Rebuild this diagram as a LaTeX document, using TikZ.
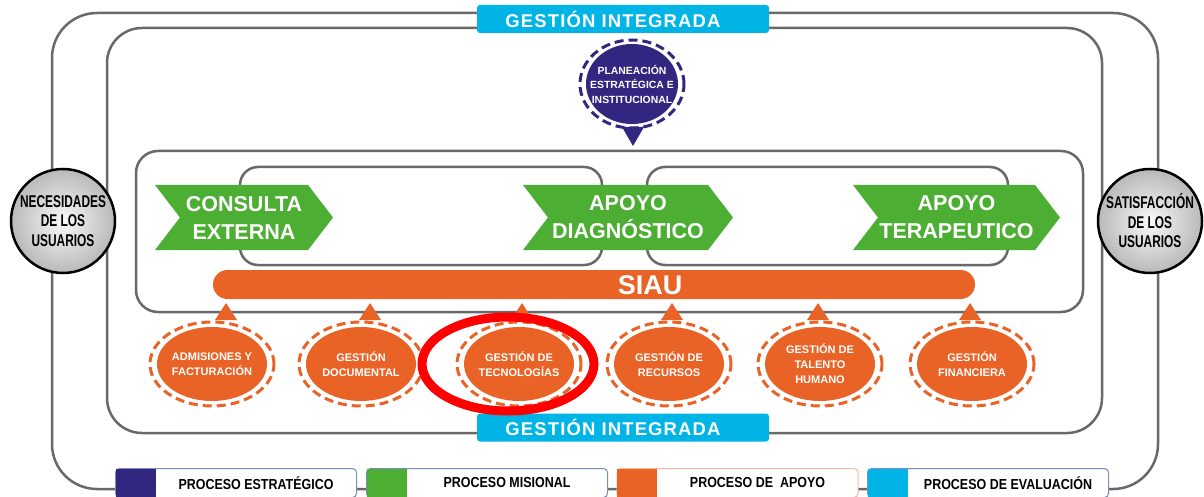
\documentclass[tikz,border=0pt]{standalone}
\usepackage{fontspec}
\setmainfont{Liberation Sans}
\newfontfamily\circfont[FakeStretch=0.7]{Liberation Sans}
\newfontfamily\legfont[FakeStretch=0.86]{Liberation Sans}
\newfontfamily\gifont[LetterSpace=6]{Liberation Sans}
\usepackage{xcolor}
\usetikzlibrary{shapes.geometric,shapes.symbols,calc,positioning}

\definecolor{greenP}{RGB}{77,174,52}
\definecolor{orangeP}{RGB}{233,99,39}
\definecolor{navyP}{RGB}{49,39,128}
\definecolor{cyanP}{RGB}{0,180,230}
\definecolor{lineP}{RGB}{105,105,105}
\definecolor{legP}{RGB}{125,140,190}

\begin{document}
\begin{tikzpicture}[x=1pt, y=-1pt,
    procline/.style = {draw=lineP, line width=2.5pt},
    chev/.style = {signal, signal to=east, signal from=west, signal pointer angle=105, fill=greenP, text=white, align=center, minimum height=65pt, inner sep=0pt, font=\bfseries\fontsize{21.5}{28}\selectfont},
    apoyo/.style = {text=white, align=center, inner sep=0pt, font=\bfseries\fontsize{11}{15}\selectfont},
    ring/.style = {dash pattern=on 9pt off 5pt, line width=3pt},
    gi/.style = {rectangle, rounded corners=3pt, fill=cyanP, minimum width=292pt, minimum height=28pt},
    gitext/.style = {text=white, font=\gifont\bfseries\fontsize{18.5}{20}\selectfont},
    user/.style = {circle, draw=black, line width=2.5pt, minimum size=104pt, inner sep=0pt, inner color=white!95!gray, outer color=gray!55, align=center, font=\circfont\bfseries\fontsize{17}{19.5}\selectfont},
    legbox/.style = {rectangle, rounded corners=4pt, draw=legP, fill=white, line width=1pt, minimum width=241pt, minimum height=29pt, inner sep=0pt},
    legkey/.style = {rectangle, minimum width=40pt, minimum height=28pt, inner sep=0pt},
    legtext/.style = {font=\legfont\bfseries\fontsize{14.5}{16}\selectfont}]

    \useasboundingbox (0,0) rectangle (1204,497);

    \draw[procline, rounded corners=45pt] (52,13) rectangle (1158,489);
    \draw[procline, rounded corners=35pt] (107,28) rectangle (1102,433);
    \draw[procline, rounded corners=22pt] (136,151) rectangle (1083,312);
    \draw[procline, rounded corners=18pt] (240,167) rectangle (602,265);
    \draw[procline, rounded corners=18pt] (647,167) rectangle (1008,265);

    \node[chev, minimum width=178pt] (consulta) at (244,217.5) {CONSULTA\\EXTERNA};
    \node[chev, minimum width=210pt] (diagnos) at (628,217.5) {APOYO\\DIAGNÓSTICO};
    \node[chev, minimum width=207pt] (terapeu) at (956.5,217.5) {APOYO\\TERAPEUTICO};

    \node[rectangle, rounded corners=14.5pt, fill=orangeP, minimum width=762pt, minimum height=29pt] (siau) at (594,284.5) {};
    \node[text=white, font=\bfseries\fontsize{27}{27}\selectfont] (siaulbl) at (650,285) {SIAU};

    \foreach \nm/\cx/\tx/\txt in {admis/212/226/{ADMISIONES Y\\FACTURACIÓN},
                                  docum/361/370/{GESTIÓN\\DOCUMENTAL},
                                  tecno/519/522/{GESTIÓN DE\\TECNOLOGÍAS},
                                  recur/669/672/{GESTIÓN DE\\RECURSOS},
                                  talen/820/818/{GESTIÓN DE\\TALENTO\\HUMANO},
                                  finan/972/970/{GESTIÓN\\FINANCIERA}}{
        \fill[orangeP] (\cx,364) ellipse [x radius=55pt, y radius=37pt];
        \node[apoyo] (\nm) at (\cx,364) {\txt};
        \draw[ring, draw=orangeP] (\nm.center) ellipse [x radius=62pt, y radius=42pt];
        \fill[orangeP] (\tx,303) -- ++(-11,17) -- ++(22,0) -- cycle;
    }

    \fill[navyP] (632,84) ellipse [x radius=46pt, y radius=40pt];
    \node[text=white, align=center, inner sep=0pt, font=\bfseries\fontsize{10.4}{14.5}\selectfont] (plan) at (632,84) {PLANEACIÓN\\ESTRATÉGICA E\\INSTITUCIONAL};
    \draw[ring, draw=navyP] (plan.center) ellipse [x radius=52pt, y radius=44pt];
    \fill[navyP] (633,146) -- (622,127) -- (644,127) -- cycle;

    \node[gi] (gitop) at (623,19) {};
    \node[gitext] (gitoplbl) at (613,19) {GESTIÓN INTEGRADA};
    \node[gi] (gibot) at (623,427.5) {};
    \node[gitext] (gibotlbl) at (613,427.5) {GESTIÓN INTEGRADA};

    \node[user] (neces) at (63,221) {NECESIDADES\\DE LOS\\USUARIOS};
    \node[user] (satis) at (1150,221) {SATISFACCIÓN\\DE LOS\\USUARIOS};

    \node[legbox] (estrat) at (236,483) {};
    \node[legkey, fill=navyP, anchor=west] (estratkey) at ($(estrat.west)+(0.5,0)$) {};
    \node[legtext] (estratlbl) at (256,483) {PROCESO ESTRATÉGICO};
    \node[legbox] (misional) at (487,483) {};
    \node[legkey, fill=greenP, anchor=west] (misionalkey) at ($(misional.west)+(0.5,0)$) {};
    \node[legtext] (misionallbl) at (507,483) {PROCESO MISIONAL};
    \node[legbox, draw=orangeP!45] (apoyoleg) at (737.5,483) {};
    \node[legkey, fill=orangeP, anchor=west] (apoyokey) at ($(apoyoleg.west)+(0.5,0)$) {};
    \node[legtext] (apoyolbl) at (757.5,483) {PROCESO DE~ APOYO};
    \node[legbox] (evalua) at (988,483) {};
    \node[legkey, fill=cyanP, anchor=west] (evaluakey) at ($(evalua.west)+(0.5,0)$) {};
    \node[legtext] (evalualbl) at (1008,483) {PROCESO DE EVALUACIÓN};

    \draw[red, line width=9pt] ($(tecno.center)+(-11,0)$) ellipse [x radius=86pt, y radius=47pt];

\end{tikzpicture}
\end{document}
